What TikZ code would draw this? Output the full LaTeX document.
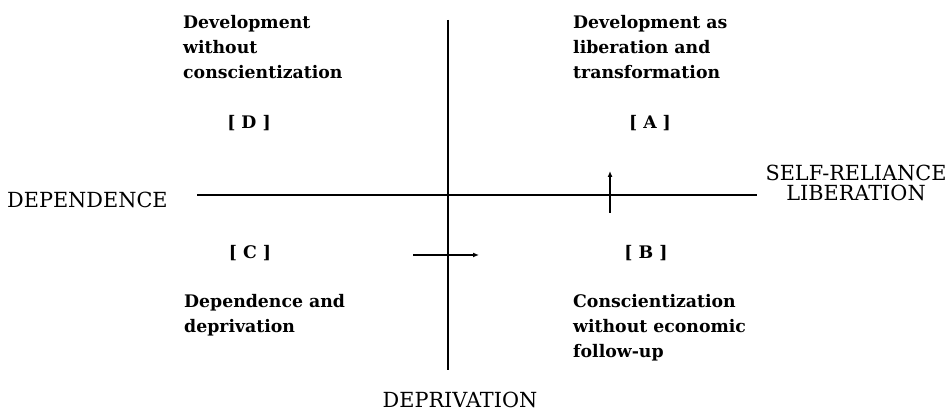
\documentclass[tikz,border=0pt]{standalone}
\usepackage{fontspec}
\setmainfont{DejaVu Serif}
\usetikzlibrary{arrows.meta, positioning}

\begin{document}
\begin{tikzpicture}[
    x=1pt, y=-1pt,
    quadtext/.style={anchor=north west, align=left, inner sep=0pt, font=\bfseries\fontsize{17.3}{25}\selectfont},
    tag/.style={inner sep=0pt, font=\bfseries\fontsize{17.3}{25}\selectfont},
    axislabel/.style={inner sep=0pt, align=center, font=\fontsize{20.8}{20.5}\selectfont},
    axis/.style={draw, line width=1.3pt},
    movearrow/.style={draw, line width=1.3pt, -{Latex[length=6pt, width=5pt]}}
]
\useasboundingbox (0,0) rectangle (950,411);

% axes
\coordinate (top) at (448,20);
\coordinate (bottom) at (448,370);
\coordinate (left) at (197,195);
\coordinate (right) at (757,195);
\draw[axis] (top) -- (bottom);
\draw[axis] (left) -- (right);

% axis labels
\node[axislabel, anchor=west] (dep) at (7,200) {DEPENDENCE};
\node[axislabel] (self) at (856,183) {SELF-RELIANCE\\LIBERATION};
\node[axislabel] (depriv) at (460,400) {DEPRIVATION};

% quadrants
\node[quadtext] (dtext) at (183,15) {Development\\without\\conscientization};
\node[tag] (d) at (249,123) {[ D ]};
\node[quadtext] (atext) at (573,15) {Development as\\liberation and\\transformation};
\node[tag] (a) at (650,123) {[ A ]};
\node[tag] (c) at (250,253) {[ C ]};
\node[quadtext] (ctext) at (184,294) {Dependence and\\deprivation};
\node[tag] (b) at (646,253) {[ B ]};
\node[quadtext] (btext) at (573,294) {Conscientization\\without economic\\follow-up};

% movements
\coordinate (up0) at (610,213);
\coordinate (up1) at (610,171);
\coordinate (rt0) at (413,255);
\coordinate (rt1) at (479,255);
\draw[movearrow] (up0) -- (up1);
\draw[movearrow] (rt0) -- (rt1);

\end{tikzpicture}
\end{document}
